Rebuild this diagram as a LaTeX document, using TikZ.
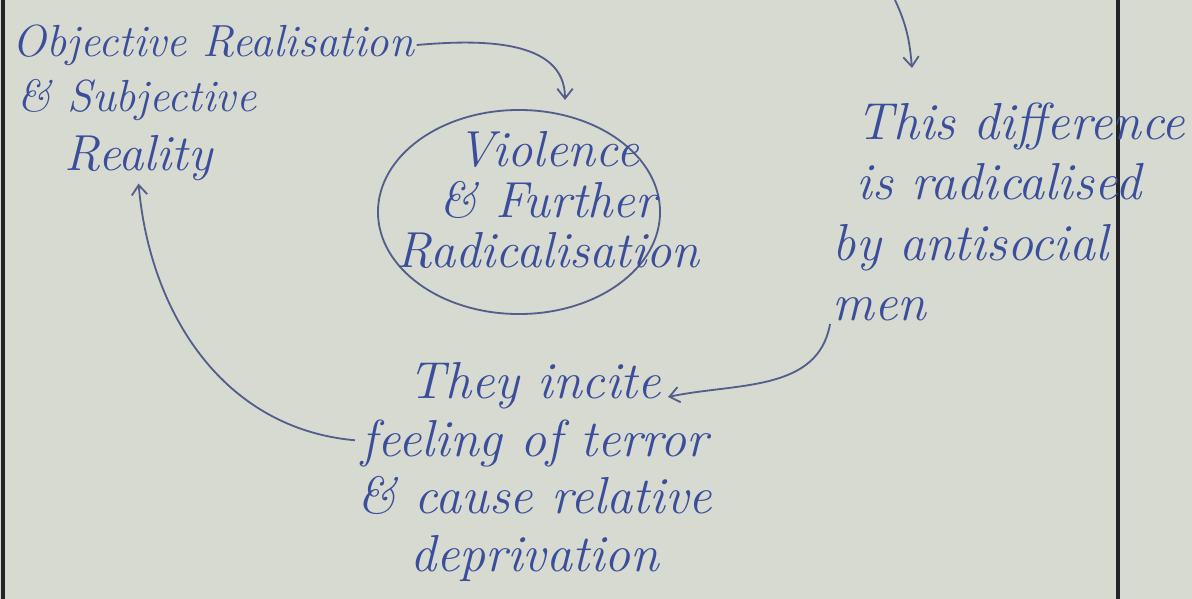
\documentclass[tikz,border=0pt]{standalone}
\usepackage{tikz}
\usepackage{color}
\usetikzlibrary{positioning, shapes, arrows.meta, calc}
\definecolor{paper}{RGB}{215,218,208}
\definecolor{ink}{RGB}{58,78,155}
\definecolor{pencil}{RGB}{84,94,140}
\definecolor{margin}{RGB}{35,35,40}
\tikzset{
  hand/.style={draw=none,outer sep=2,inner sep=0,color=ink,
    font=\fontsize{32}{41}\selectfont\itshape, anchor=west},
  ring/.style={draw=pencil,ellipse,line width=1.3,minimum width=7.05cm,
    minimum height=5.1cm,inner sep=0},
  link/.style={-{Straight Barb[length=7pt,width=11pt]},line width=1.3,color=pencil}
}

\begin{document}
\begin{tikzpicture}[x=0.025cm,y=-0.025cm]

\fill[paper] (0,0) rectangle (1192,599);
\useasboundingbox (0,0) rectangle (1192,599);

% page rules
\draw[margin,line width=2.2] (3,0) -- (3,599);
\draw[margin,line width=2.2] (1118,0) -- (1118,599);


\node [hand] (obj) at (10,45) {Objective Realisation};
\node [hand] (subj) at (15,100) {\& Subjective};
\node [hand,font=\fontsize{36}{41}\selectfont\itshape] (real) at (62,158) {Reality};


\node [ring] (ring) at (519,212) {};
\node [hand,anchor=center,align=center,font=\fontsize{36}{36}\selectfont\itshape] (viol) at (548,200) {Violence\\\& Further\\Radicalisation};


\coordinate (topin) at (895,0);
\coordinate (tip1) at (565,100);
\coordinate (tip2) at (912,68);
\coordinate (tip3) at (668,397);

\node [hand,align=left,font=\fontsize{37}{43}\selectfont\itshape] (diff) at (830,212) {\hspace*{0.6cm}This difference\\\hspace*{0.6cm}is radicalised\\by antisocial\\men};

\node [hand,anchor=center,align=center,font=\fontsize{37}{41}\selectfont\itshape] (terror) at (535,472) {They incite\\feeling of terror\\\& cause relative\\deprivation};


\draw[link] (obj.east) to[out=5,in=90] (tip1);
\draw[link] (topin) to[out=-65,in=95] (tip2);
\draw[link] (diff.south west) to[out=-100,in=12] (tip3);
\draw[link] (terror.170) to[out=175,in=-85] (real.south);

\end{tikzpicture}
\end{document}
